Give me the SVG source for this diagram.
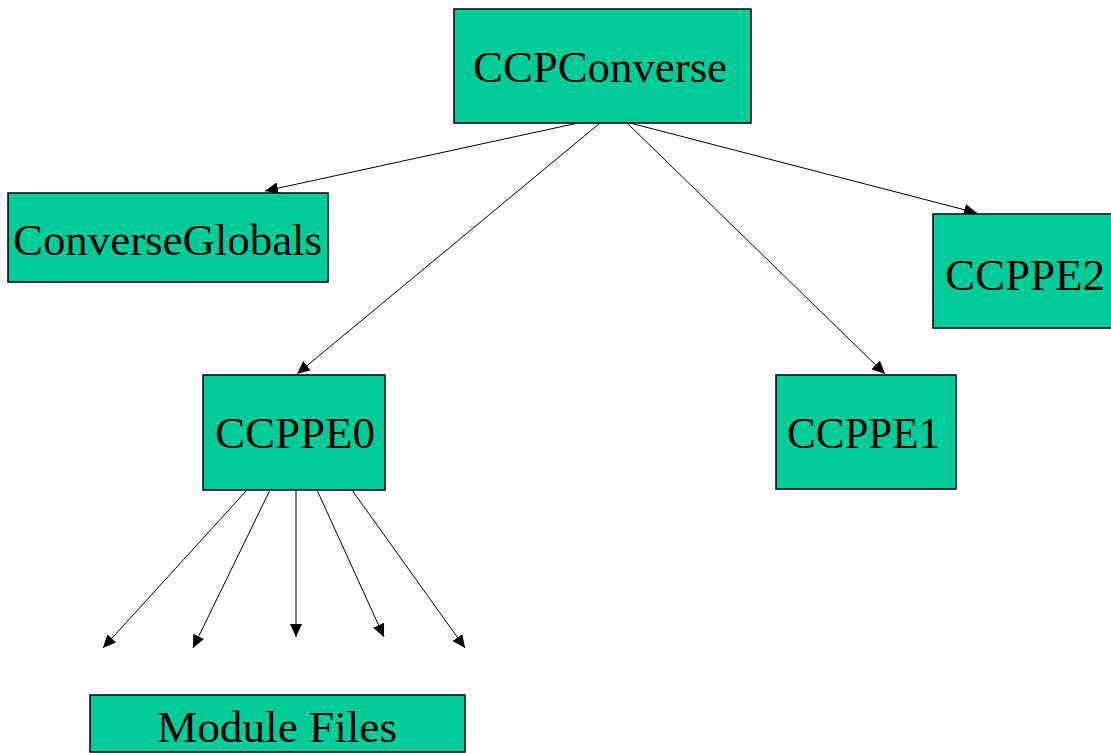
<svg xmlns="http://www.w3.org/2000/svg" width="1111" height="753" viewBox="0 0 1111 753">
<style>
.box{fill:#00CC99;stroke:#000;stroke-width:1.5}
.lbl{font-family:"Liberation Serif","Times New Roman",serif;font-size:44px;fill:#000}
.edge{stroke:#000;stroke-width:1;fill:none;marker-end:url(#ah)}
</style>
<defs>
<marker id="ah" markerUnits="userSpaceOnUse" markerWidth="16" markerHeight="14" refX="13" refY="6" orient="auto">
<path d="M0,0 L13,6 L0,12 Z" fill="#000"/>
</marker>
</defs>
<rect width="1111" height="753" fill="#fff"/>
<g id="connectors">
<line class="edge" x1="578" y1="123" x2="265" y2="191"/>
<line class="edge" x1="600" y1="123" x2="297" y2="374"/>
<line class="edge" x1="627" y1="123" x2="885" y2="374"/>
<line class="edge" x1="630" y1="123" x2="977" y2="213"/>
<line class="edge" x1="247" y1="490" x2="103" y2="648"/>
<line class="edge" x1="270" y1="490" x2="193" y2="648"/>
<line class="edge" x1="296" y1="490" x2="296" y2="637"/>
<line class="edge" x1="317" y1="490" x2="384" y2="637"/>
<line class="edge" x1="352" y1="490" x2="465" y2="648"/>
</g>
<g id="CCPConverse">
<rect class="box" x="454" y="9" width="297" height="114"/>
<text class="lbl" x="473" y="82" textLength="254" lengthAdjust="spacingAndGlyphs">CCPConverse</text>
</g>
<g id="ConverseGlobals">
<rect class="box" x="8" y="193" width="320" height="89"/>
<text class="lbl" x="13" y="255" textLength="309" lengthAdjust="spacingAndGlyphs">ConverseGlobals</text>
</g>
<g id="CCPPE2">
<rect class="box" x="933" y="214" width="180" height="114"/>
<text class="lbl" x="945" y="290" textLength="160" lengthAdjust="spacingAndGlyphs">CCPPE2</text>
</g>
<g id="CCPPE0">
<rect class="box" x="203" y="375" width="182" height="115"/>
<text class="lbl" x="215" y="448" textLength="160" lengthAdjust="spacingAndGlyphs">CCPPE0</text>
</g>
<g id="CCPPE1">
<rect class="box" x="776" y="375" width="180" height="114"/>
<text class="lbl" x="787" y="448" textLength="153" lengthAdjust="spacingAndGlyphs">CCPPE1</text>
</g>
<g id="ModuleFiles">
<rect class="box" x="90" y="695" width="375" height="57"/>
<text class="lbl" x="157" y="742" textLength="240" lengthAdjust="spacingAndGlyphs">Module Files</text>
</g>
</svg>
